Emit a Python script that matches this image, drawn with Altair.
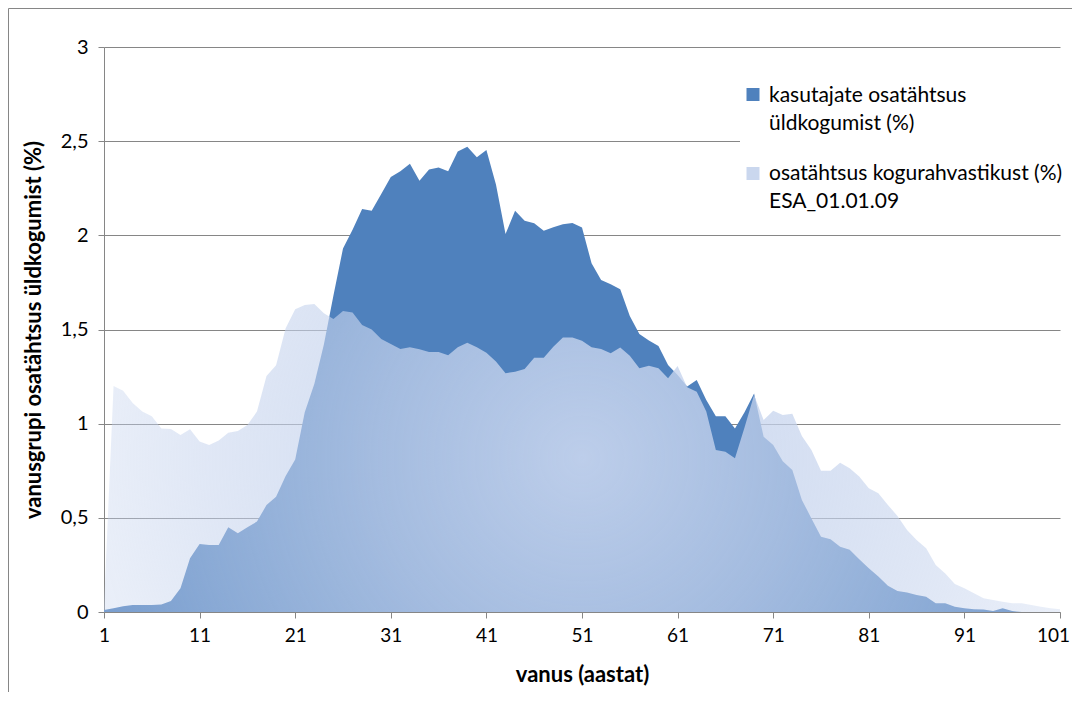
import altair as alt
import pandas as pd

# ---- data ----
ages = list(range(1, 102))

kasutajad = [
    0.01, 0.02, 0.03, 0.037, 0.037, 0.037, 0.04, 0.058, 0.126, 0.285,
    0.361, 0.356, 0.356, 0.45, 0.418, 0.45, 0.48, 0.568, 0.612, 0.722,
    0.81, 1.06, 1.21, 1.42, 1.68, 1.93, 2.03, 2.14, 2.13, 2.22,
    2.31, 2.34, 2.38, 2.29, 2.35, 2.36, 2.34, 2.445, 2.47, 2.415,
    2.453, 2.27, 2.007, 2.13, 2.078, 2.064, 2.025, 2.043, 2.059, 2.066,
    2.041, 1.852, 1.763, 1.74, 1.714, 1.572, 1.476, 1.441, 1.413, 1.312,
    1.259, 1.197, 1.232, 1.126, 1.04, 1.04, 0.975, 1.06, 1.16, 0.93,
    0.887, 0.80, 0.754, 0.595, 0.497, 0.40, 0.386, 0.347, 0.33, 0.28,
    0.232, 0.188, 0.14, 0.111, 0.103, 0.09, 0.081, 0.046, 0.046, 0.028,
    0.02, 0.015, 0.013, 0.005, 0.02, 0.005, 0.0, 0.0, 0.0, 0.0,
    0.0,
]

rahvastik = [
    0.03, 1.20, 1.175, 1.11, 1.064, 1.04, 0.975, 0.972, 0.94, 0.97,
    0.905, 0.887, 0.91, 0.952, 0.961, 0.993, 1.064, 1.253, 1.31, 1.507,
    1.607, 1.63, 1.635, 1.586, 1.556, 1.598, 1.59, 1.524, 1.50, 1.45,
    1.423, 1.397, 1.406, 1.395, 1.38, 1.38, 1.363, 1.406, 1.43, 1.406,
    1.377, 1.33, 1.268, 1.276, 1.29, 1.35, 1.35, 1.409, 1.457, 1.457,
    1.44, 1.406, 1.397, 1.374, 1.404, 1.36, 1.294, 1.308, 1.294, 1.241,
    1.306, 1.193, 1.17, 1.064, 0.86, 0.851, 0.816, 0.98, 1.152, 1.02,
    1.069, 1.046, 1.052, 0.935, 0.86, 0.75, 0.75, 0.793, 0.763, 0.719,
    0.657, 0.63, 0.568, 0.51, 0.435, 0.382, 0.338, 0.25, 0.205, 0.149,
    0.126, 0.099, 0.073, 0.064, 0.055, 0.046, 0.046, 0.037, 0.028, 0.02,
    0.015,
]

legend_labels = [
    "kasutajate osatähtsus\nüldkogumist (%)",
    "osatähtsus kogurahvastikust (%)\nESA_01.01.09",
]
x_ticks = list(range(1, 102, 10))
y_ticks = [0, 0.5, 1, 1.5, 2, 2.5, 3]

x_title = "vanus (aastat)"
y_title = "vanusgrupi osatähtsus üldkogumist (%)"

df = pd.DataFrame({"vanus": ages, "kasutajad": kasutajad, "rahvastik": rahvastik})

FONT = "Lato"
DARK = "#4F81BD"
GRID = "#868686"
PALE = "#CAD7EE"

x_axis = alt.Axis(values=x_ticks, title=x_title, grid=False, labelFlush=False,
                  tickSize=6, labelPadding=8, titlePadding=19, labelFontSize=19,
                  labelOffset={"condition": {"test": "datum.value == 101", "value": -7},
                               "value": 0})
y_axis = alt.Axis(values=y_ticks, title=y_title, grid=True, tickSize=6,
                  labelPadding=10, titlePadding=15,
                  labelExpr="replace(toString(datum.value), '.', ',')")

x_scale = alt.Scale(domain=[1, 101], nice=False, zero=False)
y_scale = alt.Scale(domain=[0, 3], nice=False)

dark = alt.Chart(df).mark_area(color=DARK, interpolate="linear").encode(
    x=alt.X("vanus:Q", scale=x_scale, axis=x_axis),
    y=alt.Y("kasutajad:Q", scale=y_scale, axis=y_axis),
)

light_fill = {
    "gradient": "radial",
    "x1": 0.5, "y1": 0.5, "r1": 0,
    "x2": 0.5, "y2": 0.5, "r2": 0.72,
    "stops": [
        {"offset": 0, "color": "rgba(198,212,238,0.92)"},
        {"offset": 0.3, "color": "rgba(197,211,237,0.72)"},
        {"offset": 0.55, "color": "rgba(196,210,237,0.52)"},
        {"offset": 0.7, "color": "rgba(196,210,237,0.38)"},
        {"offset": 1, "color": "rgba(196,210,237,0.3)"},
    ],
}

light = alt.Chart(df).mark_area(color=light_fill, interpolate="linear").encode(
    x=alt.X("vanus:Q", scale=x_scale, axis=x_axis),
    y=alt.Y("rahvastik:Q", scale=y_scale, axis=y_axis),
)

# ---- legend (manual, inside plot area) ----
one = alt.Data(values=[{"a": 0}])

legend_bg = alt.Chart(one).mark_rect(fill="white").encode(
    x=alt.value(636), x2=alt.value(958), y=alt.value(28), y2=alt.value(168)
)
sw1 = alt.Chart(one).mark_square(size=169, color=DARK, opacity=1).encode(
    x=alt.value(649), y=alt.value(47.5)
)
sw2 = alt.Chart(one).mark_square(size=169, color=PALE, opacity=1).encode(
    x=alt.value(649), y=alt.value(126.5)
)
txt1 = alt.Chart(one).mark_text(
    align="left", baseline="alphabetic", lineBreak="\n", lineHeight=28,
    font=FONT, fontSize=21, color="black"
).encode(x=alt.value(665), y=alt.value(55), text=alt.value(legend_labels[0]))
txt2 = alt.Chart(one).mark_text(
    align="left", baseline="alphabetic", lineBreak="\n", lineHeight=28,
    font=FONT, fontSize=21, color="black"
).encode(x=alt.value(665), y=alt.value(133), text=alt.value(legend_labels[1]))

# ---- outer chart frame (left and top edges visible in the reference) ----
frame_left = alt.Chart(one).mark_rule(color=GRID, strokeWidth=1).encode(
    x=alt.value(-95.5), y=alt.value(-38.5), y2=alt.value(700)
)
frame_top = alt.Chart(one).mark_rule(color=GRID, strokeWidth=1).encode(
    x=alt.value(-95.5), x2=alt.value(1000), y=alt.value(-38.5)
)

chart = alt.layer(
    dark, light, legend_bg, sw1, sw2, txt1, txt2, frame_left, frame_top
).properties(
    width=956, height=565,
    autosize=alt.AutoSizeParams(type="none"),
    padding={"left": 96, "top": 39, "right": 12, "bottom": 80},
    background="white",
).configure_view(
    stroke=None
).configure_axis(
    domainColor=GRID, tickColor=GRID, gridColor=GRID, gridWidth=1,
    labelFont=FONT, labelFontSize=20, labelColor="black",
    titleFont=FONT, titleFontSize=22, titleFontWeight="bold", titleColor="black",
)

chart.save("out.html", embed_options={"renderer": "svg", "actions": False})
